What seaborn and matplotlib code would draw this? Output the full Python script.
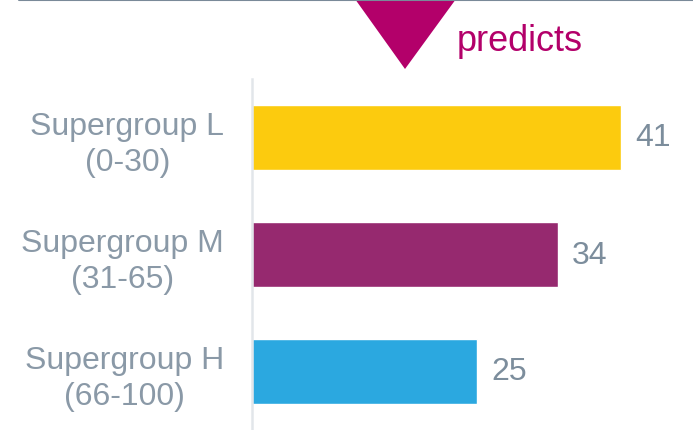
import numpy as np
import matplotlib.pyplot as plt
from matplotlib.patches import Polygon
from matplotlib.lines import Line2D
import pandas as pd
import seaborn as sns

# data
groups = ["Supergroup L\n(0-30)", "Supergroup M\n(31-65)", "Supergroup H\n(66-100)"]
values = [41, 34, 25]
colours = ["#FCCB0E", "#96296F", "#2BA8E0"]

grey = "#8A99A7"
magenta = "#B3006A"

sns.set_theme(style="white")
plt.rcParams['font.family'] = ['Liberation Sans', 'DejaVu Sans']

df = pd.DataFrame({"group": groups, "value": values})

fig = plt.figure(figsize=(6.93, 4.31), dpi=100)
ax = fig.add_axes([252/693, 0, 441/693, 351/431])

sns.barplot(data=df, x="value", y="group", hue="group", palette=colours,
            orient="h", width=0.553, legend=False, ax=ax, saturation=1)

ax.set_xlim(0, 49)
ax.set_ylim(2.5, -0.5)
ax.set_xlabel("")
ax.set_ylabel("")
ax.set_xticks([])
for s in ["top", "right", "bottom"]:
    ax.spines[s].set_visible(False)
ax.spines["left"].set_color("#E2E6EA")
ax.spines["left"].set_linewidth(1.8)

ax.tick_params(axis="y", length=0, pad=20, labelsize=23, labelcolor=grey)
for t in ax.get_yticklabels():
    t.set_multialignment("center")
    t.set_linespacing(1.28)

for c in ax.containers:
    ax.bar_label(c, padding=10, fontsize=23, color="#7C8D9C")

# top rule and "predicts" marker
fig.add_artist(Line2D([19/693, 1], [1 - 1/431, 1 - 1/431], transform=fig.transFigure,
                      color="#7A8A99", lw=1.5))
tri = Polygon([[355/693, 1], [456/693, 1], [405/693, 1 - 70/431]], closed=True,
              transform=fig.transFigure, color=magenta, lw=0)
fig.add_artist(tri)
fig.text(457/693, 1 - 51/431, "predicts", color=magenta, fontsize=26,
         ha="left", va="baseline")

plt.savefig("out.png", dpi=100)
plt.close()
